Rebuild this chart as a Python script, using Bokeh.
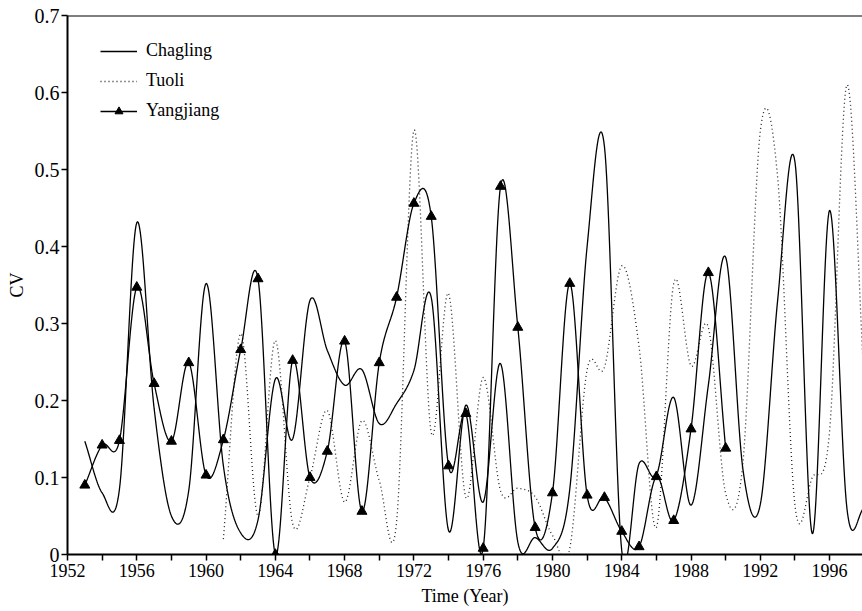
import numpy as np
from bokeh.plotting import figure
from bokeh.models import Range1d, FixedTicker, Span, Legend, LegendItem
from bokeh.embed import file_html
from bokeh.resources import INLINE

# ---------------- data ----------------
chagling_years = list(range(1953, 1999))
chagling_cv = [0.147, 0.080, 0.085, 0.431, 0.190, 0.050, 0.083, 0.352, 0.115, 0.028,
               0.045, 0.228, 0.150, 0.330, 0.265, 0.220, 0.240, 0.170, 0.196, 0.239,
               0.334, 0.031, 0.194, 0.068, 0.248, 0.016, 0.022, 0.008, 0.085, 0.400,
               0.530, 0.005, 0.118, 0.103, 0.204, 0.064, 0.220, 0.386, 0.110, 0.065,
               0.330, 0.510, 0.027, 0.447, 0.060, 0.060]

tuoli_years = list(range(1961, 1999))
tuoli_cv = [0.020, 0.287, 0.050, 0.278, 0.040, 0.100, 0.187, 0.068, 0.174, 0.096,
            0.042, 0.551, 0.158, 0.339, 0.074, 0.230, 0.083, 0.086, 0.075, 0.025,
            0.008, 0.240, 0.243, 0.375, 0.270, 0.035, 0.352, 0.245, 0.295, 0.079,
            0.120, 0.550, 0.490, 0.064, 0.100, 0.160, 0.610, 0.220]

yangjiang_years = list(range(1953, 1991))
yangjiang_cv = [0.090, 0.142, 0.148, 0.347, 0.222, 0.147, 0.249, 0.103, 0.149, 0.266,
                0.358, 0.000, 0.252, 0.100, 0.134, 0.277, 0.056, 0.249, 0.334, 0.456,
                0.439, 0.115, 0.183, 0.008, 0.478, 0.295, 0.035, 0.080, 0.352, 0.077,
                0.074, 0.030, 0.010, 0.101, 0.044, 0.163, 0.366, 0.138]

x_label_ticks = [1952, 1956, 1960, 1964, 1968, 1972, 1976, 1980, 1984, 1988, 1992, 1996]
x_minor_ticks = [1954, 1958, 1962, 1966, 1970, 1974, 1978, 1982, 1986, 1990, 1994]
y_ticks = [0, 0.1, 0.2, 0.3, 0.4, 0.5, 0.6, 0.7]
y_tick_labels = ["0", "0.1", "0.2", "0.3", "0.4", "0.5", "0.6", "0.7"]


def smooth(xs, ys, n=24):
    """Smoothed connecting line (Catmull-Rom) through the data points."""
    xs = np.asarray(xs, float)
    ys = np.asarray(ys, float)
    P = np.concatenate([[2 * ys[0] - ys[1]], ys, [2 * ys[-1] - ys[-2]]])
    ox, oy = [], []
    t = np.linspace(0, 1, n, endpoint=False)
    h00 = 2 * t**3 - 3 * t**2 + 1
    h10 = t**3 - 2 * t**2 + t
    h01 = -2 * t**3 + 3 * t**2
    h11 = t**3 - t**2
    for i in range(len(ys) - 1):
        p0, p1, p2, p3 = P[i], P[i + 1], P[i + 2], P[i + 3]
        m1 = (p2 - p0) / 2
        m2 = (p3 - p1) / 2
        oy.extend(h00 * p1 + h10 * m1 + h01 * p2 + h11 * m2)
        ox.extend(xs[i] + t * (xs[i + 1] - xs[i]))
    ox.append(xs[-1])
    oy.append(ys[-1])
    return ox, oy


FONT = "Liberation Serif"

p = figure(width=862, height=611, output_backend="svg", toolbar_location=None,
           x_range=Range1d(1952, 1997.9), y_range=Range1d(0, 0.7),
           min_border_left=67, min_border_right=0, min_border_top=15,
           min_border_bottom=57)
p.outline_line_color = None
p.xgrid.visible = False
p.ygrid.visible = False
p.background_fill_color = "white"
p.border_fill_color = "white"

cx, cy = smooth(chagling_years, chagling_cv)
tx, ty = smooth(tuoli_years, tuoli_cv)
yx, yy = smooth(yangjiang_years, yangjiang_cv)

r_ch = p.line(cx, cy, line_color="black", line_width=1.3)
r_tu = p.line(tx, ty, line_color="#222222", line_width=1.3, line_dash="1 3")
r_yl = p.line(yx, yy, line_color="black", line_width=1.3)
r_ym = p.scatter(yangjiang_years, yangjiang_cv, marker="triangle", size=10,
                 fill_color="black", line_color="black")

top = Span(location=0.7, dimension="width", line_color="black", line_width=2)
p.add_layout(top)

# axes
for ax in (p.xaxis[0], p.yaxis[0]):
    ax.axis_line_width = 2
    ax.axis_line_color = "black"
    ax.major_tick_line_width = 1.5
    ax.major_tick_line_color = "black"
    ax.major_tick_in = 0
    ax.major_tick_out = 6
    ax.major_label_text_font = FONT
    ax.major_label_text_font_size = "18px"
    ax.major_label_text_color = "black"
    ax.axis_label_text_font = FONT
    ax.axis_label_text_font_size = "18px"
    ax.axis_label_text_font_style = "normal"
    ax.axis_label_text_color = "black"

p.xaxis.ticker = FixedTicker(ticks=x_label_ticks, minor_ticks=x_minor_ticks)
p.xaxis.minor_tick_in = 0
p.xaxis.minor_tick_out = 6
p.xaxis.minor_tick_line_width = 1.5
p.xaxis.minor_tick_line_color = "black"
p.xaxis.major_label_standoff = 3
p.xaxis.axis_label = "Time (Year)"
p.xaxis.axis_label_standoff = 6

p.yaxis.ticker = FixedTicker(ticks=y_ticks, minor_ticks=[])
p.yaxis.major_label_overrides = {v: s for v, s in zip(y_ticks, y_tick_labels)}
p.yaxis.major_label_text_font_size = "20px"
p.yaxis.major_label_standoff = 2
p.yaxis.axis_label = "CV"
p.yaxis.axis_label_standoff = 5

legend = Legend(items=[
    LegendItem(label="Chagling", renderers=[r_ch]),
    LegendItem(label="Tuoli", renderers=[r_tu]),
    LegendItem(label="Yangjiang", renderers=[r_yl, r_ym]),
], location=(33, 433))
legend.border_line_color = None
legend.background_fill_alpha = 0
legend.label_text_font = FONT
legend.label_text_font_size = "18px"
legend.label_text_color = "black"
legend.glyph_width = 37
legend.glyph_height = 20
legend.label_height = 20
legend.label_standoff = 9
legend.spacing = 9
legend.padding = 0
legend.margin = 0
p.add_layout(legend, "center")

open("out.html", "w").write(file_html(p, INLINE))
